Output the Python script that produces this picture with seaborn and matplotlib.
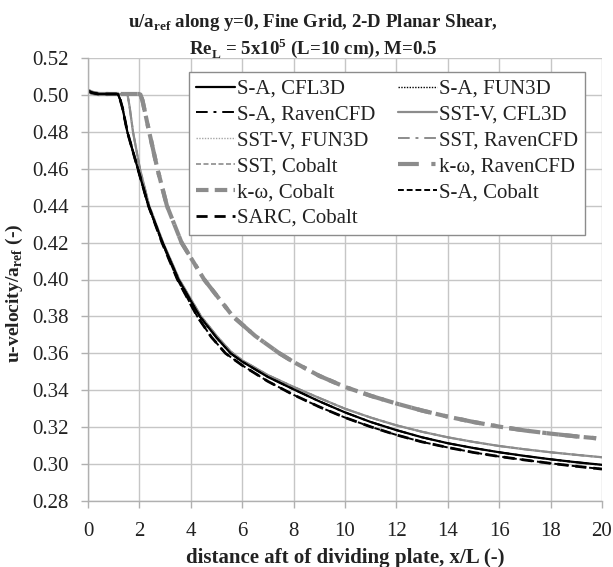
import numpy as np
import pandas as pd
import matplotlib
matplotlib.use("Agg")
import matplotlib.pyplot as plt
import seaborn as sns

# ---------------- data ----------------
x_sa = [0, 0.15, 0.4, 1.1, 1.17, 1.25, 1.35, 1.53, 1.94, 2.35, 2.9, 3.52, 4.35, 5.0, 5.55,
        6, 7, 8, 9, 10, 11, 12, 13, 14, 15, 16, 17, 18, 19, 20]
y_sa = [0.5022, 0.5012, 0.5005, 0.5005, 0.5003, 0.4975, 0.4925, 0.480, 0.460, 0.440, 0.420,
        0.400, 0.380, 0.3685, 0.3600, 0.3555, 0.3472, 0.3405, 0.3340, 0.3280, 0.3228,
        0.3184, 0.3145, 0.3113, 0.3087, 0.3064, 0.3044, 0.3026, 0.3010, 0.2996]

x_sa_cobalt = [0, 0.15, 0.4, 1.1, 1.17, 1.25, 1.35, 1.53, 1.94, 2.35, 2.88, 3.48, 4.25, 4.8,
               5.35, 6, 7, 8, 9, 10, 11, 12, 13, 14, 15, 16, 17, 18, 19, 20]
y_sa_cobalt = [0.5022, 0.5012, 0.5005, 0.5005, 0.5003, 0.4975, 0.4925, 0.480, 0.460, 0.440,
               0.420, 0.400, 0.380, 0.3688, 0.3600, 0.3535, 0.3448, 0.3375, 0.3310, 0.3252,
               0.3202, 0.3158, 0.3120, 0.3090, 0.3063, 0.3041, 0.3022, 0.3004, 0.2988,
               0.2973]

x_sst = [0, 0.15, 0.4, 1.48, 1.54, 1.62, 1.75, 2.02, 2.38, 2.92, 3.55, 4.4, 5.0, 5.55, 6,
         7, 8, 9, 10, 11, 12, 13, 14, 15, 16, 17, 18, 19, 20]
y_sst = [0.5022, 0.5012, 0.5005, 0.5005, 0.5000, 0.4935, 0.480, 0.460, 0.440, 0.420, 0.400,
         0.380, 0.3695, 0.3610, 0.3562, 0.3482, 0.3418, 0.3358, 0.3300, 0.3252, 0.3210,
         0.3175, 0.3145, 0.3120, 0.3098, 0.3080, 0.3064, 0.3050, 0.3037]

x_kw = [0, 0.15, 0.4, 1.98, 2.04, 2.12, 2.38, 2.70, 3.07, 3.64, 4.52, 5.64, 6.5, 7.45, 8, 9,
        10, 11, 12, 13, 14, 15, 16, 17, 18, 19, 20]
y_kw = [0.5022, 0.5012, 0.5005, 0.5005, 0.5002, 0.4970, 0.480, 0.460, 0.440, 0.420, 0.400,
        0.380, 0.3695, 0.3600, 0.3553, 0.3478, 0.3418, 0.3370, 0.3328, 0.3290, 0.3257,
        0.3228, 0.3203, 0.3182, 0.3165, 0.3150, 0.3137]

series = [
    # label, x, y, color, lw, dashes
    ("SST-V, CFL3D",    x_sst, y_sst,       "#8c8c8c", 1.6, None),
    ("SST-V, FUN3D",    x_sst, y_sst,       "#a6a6a6", 1.0, (1, 1)),
    ("SST, RavenCFD",   x_sst, y_sst,       "#8c8c8c", 1.4, (6, 3, 1.5, 3)),
    ("SST, Cobalt",     x_sst, y_sst,       "#8c8c8c", 1.2, (3, 1.5)),
    ("k-ω, RavenCFD",   x_kw,  y_kw,        "#8c8c8c", 3.0, (5, 3, 1, 3)),
    ("k-ω, Cobalt",     x_kw,  y_kw,        "#8c8c8c", 3.0, (3, 1.5)),
    ("S-A, CFL3D",      x_sa,  y_sa,        "#000000", 1.6, None),
    ("S-A, FUN3D",      x_sa,  y_sa,        "#000000", 1.0, (1, 1)),
    ("S-A, RavenCFD",   x_sa,  y_sa,        "#000000", 1.4, (6, 3, 1.5, 3)),
    ("S-A, Cobalt",     x_sa_cobalt, y_sa_cobalt, "#000000", 1.4, (3, 1.5)),
    ("SARC, Cobalt",    x_sa_cobalt, y_sa_cobalt, "#000000", 2.0, (4, 2.5)),
]

x_ticks = list(range(0, 21, 2))
y_ticks = [0.28, 0.30, 0.32, 0.34, 0.36, 0.38, 0.40, 0.42, 0.44, 0.46, 0.48, 0.50, 0.52]

# ---------------- figure ----------------
sns.set_theme(style="whitegrid")
plt.rcParams["font.family"] = ["Liberation Serif", "DejaVu Serif"]
plt.rcParams["mathtext.fontset"] = "custom"
plt.rcParams["mathtext.rm"] = "Liberation Serif"
plt.rcParams["mathtext.bf"] = "Liberation Serif:bold"

W, H = 613, 567
fig = plt.figure(figsize=(W / 100, H / 100), dpi=100)
ax = fig.add_axes([88 / W, 1 - 501 / H, (602 - 88) / W, (501 - 58) / H])

handles = {}
for label, xs, ys, color, lw, dashes in series:
    df = pd.DataFrame({"x": xs, "y": ys})
    sns.lineplot(data=df, x="x", y="y", ax=ax, color=color, linewidth=lw,
                 estimator=None, sort=False, label=label, legend=False)
    line = ax.get_lines()[-1]
    if dashes is not None:
        line.set_dashes(dashes)
    handles[label] = line

ax.set_xlim(0, 20)
ax.set_ylim(0.28, 0.52)
ax.set_xticks(x_ticks)
ax.set_yticks(y_ticks)
ax.set_yticklabels([f"{v:.2f}" for v in y_ticks])
ax.grid(True, color="#c6c6c6", linewidth=1.0)
for s in ["top", "right"]:
    ax.spines[s].set_visible(False)
for s in ["left", "bottom"]:
    ax.spines[s].set_color("#b0b0b0")
    ax.spines[s].set_linewidth(1.0)
ax.tick_params(axis="both", which="major", labelsize=15, colors="#b0b0b0",
               labelcolor="#222222", length=5, width=1, direction="out",
               bottom=True, left=True)
ax.tick_params(axis="x", pad=10)
ax.tick_params(axis="y", pad=9)

ax.set_xlabel("distance aft of dividing plate, x/L (-)", fontsize=15, fontweight="bold",
              color="#222222", labelpad=5)
ax.set_ylabel(r"u-velocity/a$_{\mathbf{ref}}$ (-)", fontsize=14, fontweight="bold",
              color="#222222")
ax.yaxis.set_label_coords((25 - 88) / 514, (501 - 293) / 443)

fig.text(313 / W, 1 - 27 / H, "u/a$_{\\mathbf{ref}}$ along y=0, Fine Grid, 2-D Planar Shear,",
         ha="center", va="baseline", fontsize=13.6, fontweight="bold", color="#222222")
fig.text(313 / W, 1 - 54 / H, "Re$_{\\mathbf{L}}$ = 5x10$^{\\mathbf{5}}$ (L=10 cm), M=0.5",
         ha="center", va="baseline", fontsize=13.6, fontweight="bold", color="#222222")

order = ["S-A, CFL3D", "S-A, RavenCFD", "SST-V, FUN3D", "SST, Cobalt", "k-ω, Cobalt",
         "SARC, Cobalt", "S-A, FUN3D", "SST-V, CFL3D", "SST, RavenCFD", "k-ω, RavenCFD",
         "S-A, Cobalt"]
leg = ax.legend([handles[k] for k in order], order, ncol=2, loc="upper left",
                bbox_to_anchor=(189 / W, 1 - 72 / H), bbox_transform=fig.transFigure,
                fontsize=15, frameon=True, fancybox=False, framealpha=1,
                edgecolor="#8c8c8c", handlelength=1.85, handletextpad=0.1,
                labelspacing=0.3, columnspacing=1.1, borderpad=0.35, borderaxespad=0)
leg.get_frame().set_linewidth(1.0)
for t in leg.get_texts():
    t.set_color("#222222")

fig.savefig("out.png", dpi=100)
